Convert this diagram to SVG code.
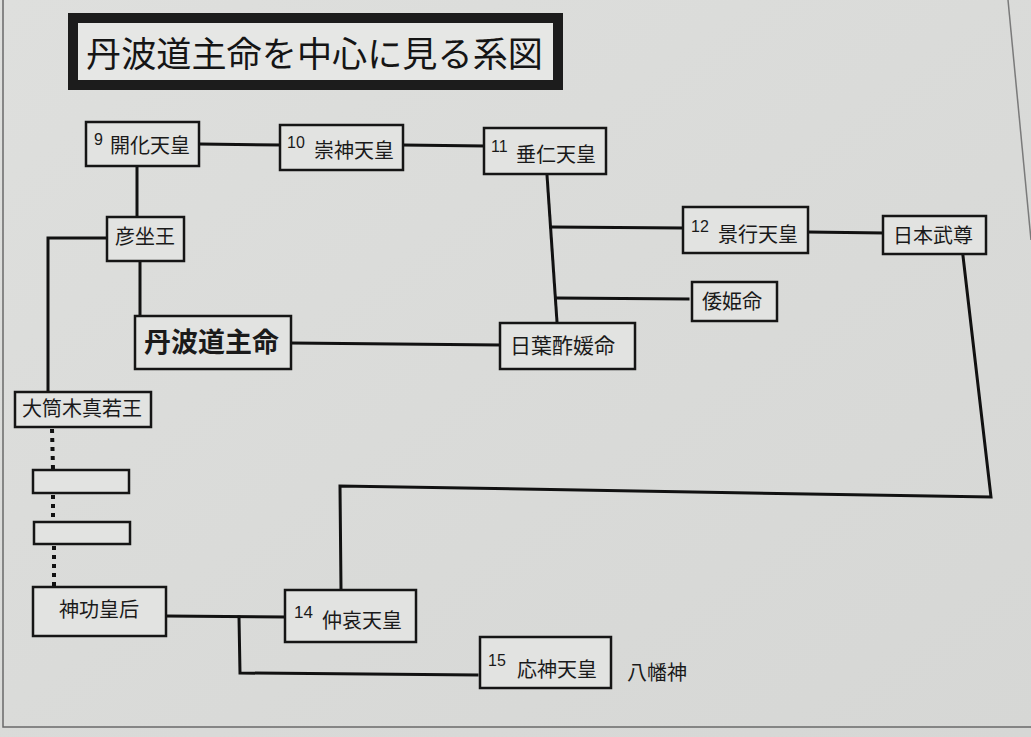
<svg xmlns="http://www.w3.org/2000/svg" width="1031" height="737" viewBox="0 0 1031 737">
<defs>
<linearGradient id="bg" x1="0" y1="0" x2="1" y2="1">
<stop offset="0" stop-color="#dedfdd"/>
<stop offset="0.6" stop-color="#d9dad8"/>
<stop offset="1" stop-color="#d6d7d5"/>
</linearGradient>
</defs>
<style>
.box{fill:#e2e3e1;stroke:#151515;stroke-width:2.5}
.ln{fill:none;stroke:#111;stroke-width:3;stroke-linecap:square}
.dot{fill:none;stroke:#111;stroke-width:4;stroke-dasharray:4 5}
.t{font-family:"Noto Sans CJK JP","Noto Sans CJK SC",sans-serif;font-size:20px;fill:#1a1a1a}
.big{font-size:27px;font-weight:bold}
.n{font-family:"Liberation Sans",Arial,sans-serif;font-size:16px;fill:#1a1a1a}
</style>
<rect x="0" y="0" width="1031" height="737" fill="url(#bg)"/>
<path d="M3 0 L3 727 L1031 727" fill="none" stroke="#6a6a6a" stroke-width="1.5"/>
<path d="M1008 0 L1031 240" fill="none" stroke="#7a7a7a" stroke-width="1.5"/>

<g id="title">
<rect x="73" y="18" width="485" height="67" fill="#e6e7e5" stroke="#1c1c1c" stroke-width="10"/>
<text x="86" y="67" font-family="'Noto Sans CJK JP',sans-serif" font-size="35" font-weight="400" fill="#151515" textLength="457" lengthAdjust="spacingAndGlyphs">丹波道主命を中心に見る系図</text>
</g>

<g id="connectors">
<path class="ln" d="M200 144 L280 145"/>
<path class="ln" d="M403 145 L484 146"/>
<path class="ln" d="M137 167 L137 217"/>
<path class="ln" d="M140 262 L140 315"/>
<path class="ln" d="M107 238 L48 238 L48 392"/>
<path class="ln" d="M291 343 L499 345"/>
<path class="ln" d="M547 175 L557 322"/>
<path class="ln" d="M551 227 L682 228"/>
<path class="ln" d="M557 298 L688 299"/>
<path class="ln" d="M808 232 L883 233"/>
<path class="ln" d="M963 256 L991 497 L340 486 L341 589"/>
<path class="ln" d="M166 616 L285 617"/>
<path class="ln" d="M239 617 L240 673 L477 675"/>
<path class="dot" d="M52 429 L53 469"/>
<path class="dot" d="M53 495 L53 521"/>
<path class="dot" d="M54 546 L54 586"/>
</g>

<g id="n9">
<rect class="box" x="86" y="122" width="113" height="44"/>
<text class="n" x="94" y="145">9</text>
<text class="t" x="110" y="153">開化天皇</text>
</g>
<g id="n10">
<rect class="box" x="280" y="125" width="123" height="45"/>
<text class="n" x="287" y="148">10</text>
<text class="t" x="314" y="158">崇神天皇</text>
</g>
<g id="n11">
<rect class="box" x="484" y="128" width="122" height="46"/>
<text class="n" x="491" y="152">11</text>
<text class="t" x="516" y="162">垂仁天皇</text>
</g>
<g id="n12">
<rect class="box" x="683" y="207" width="125" height="46"/>
<text class="n" x="691" y="232">12</text>
<text class="t" x="718" y="242">景行天皇</text>
</g>
<g id="yamatotakeru">
<rect class="box" x="883" y="216" width="103" height="38"/>
<text class="t" x="893" y="243">日本武尊</text>
</g>
<g id="hikoimasu">
<rect class="box" x="107" y="217" width="77" height="44"/>
<text class="t" x="115" y="244">彦坐王</text>
</g>
<g id="yamatohime">
<rect class="box" x="692" y="282" width="85" height="39"/>
<text class="t" x="702" y="309">倭姫命</text>
</g>
<g id="tanba">
<rect class="box" x="135" y="316" width="156" height="53"/>
<text class="t big" x="144" y="352">丹波道主命</text>
</g>
<g id="hibasu">
<rect class="box" x="500" y="323" width="135" height="46"/>
<text class="t" x="510" y="353" style="font-size:21px">日葉酢媛命</text>
</g>
<g id="otsutsuki">
<rect class="box" x="15" y="392" width="136" height="35"/>
<text class="t" x="22" y="416">大筒木真若王</text>
</g>
<g id="blank1">
<rect class="box" x="33" y="470" width="96" height="23"/>
</g>
<g id="blank2">
<rect class="box" x="34" y="522" width="96" height="22"/>
</g>
<g id="jingu">
<rect class="box" x="33" y="587" width="133" height="49"/>
<text class="t" x="59" y="617">神功皇后</text>
</g>
<g id="n14">
<rect class="box" x="285" y="590" width="131" height="52"/>
<text class="n" x="294" y="618" style="font-size:17px">14</text>
<text class="t" x="322" y="628">仲哀天皇</text>
</g>
<g id="n15">
<rect class="box" x="480" y="637" width="131" height="51"/>
<text class="n" x="488" y="666">15</text>
<text class="t" x="517" y="677">応神天皇</text>
</g>
<g id="hachiman">
<text class="t" x="627" y="680">八幡神</text>
</g>
</svg>
